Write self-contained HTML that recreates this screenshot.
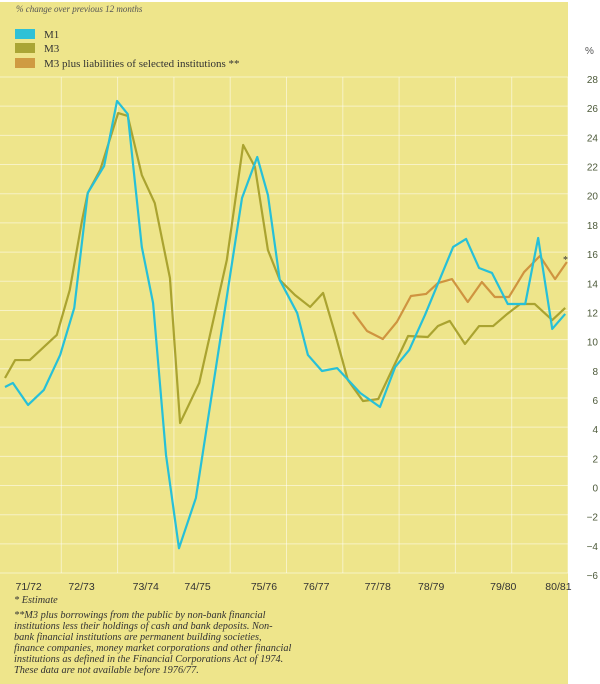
<!DOCTYPE html>
<html><head><meta charset="utf-8"><style>
body{margin:0;width:600px;height:684px;background:#fff;overflow:hidden;}
svg{display:block}
.serif{font-family:"Liberation Serif",serif}
.sans{font-family:"Liberation Sans",sans-serif}
</style></head><body>
<svg id="chart" width="600" height="684">
<rect x="0" y="2" width="568" height="682" fill="#eee58b"/>
<text x="16" y="12" class="serif" font-size="9" font-style="italic" fill="#555">% change over previous 12 months</text>
<rect x="15" y="29" width="20" height="10" fill="#2fc1d6"/>
<text x="44" y="38" class="serif" font-size="11" fill="#333">M1</text>
<rect x="15" y="43" width="20" height="10" fill="#aaa535"/>
<text x="44" y="52" class="serif" font-size="11" fill="#333">M3</text>
<rect x="15" y="58" width="20" height="10" fill="#cf9b42"/>
<text x="44" y="67" class="serif" font-size="11" fill="#333">M3 plus liabilities of selected institutions **</text>
<text x="585" y="54" class="sans" font-size="10" fill="#555">%</text>
<g id="grid"></g><g id="yticks"></g><g id="xlabels"></g><g id="series"></g>
<text x="563" y="263" class="serif" font-size="10" fill="#333">*</text>
<g class="serif" font-size="10.3" font-style="italic" fill="#333">
<text x="14" y="603">*  Estimate</text>
<text x="14" y="618">**M3 plus borrowings from the public by non-bank financial</text>
<text x="14" y="629">institutions less their holdings of cash and bank deposits. Non-</text>
<text x="14" y="640">bank financial institutions are permanent building societies,</text>
<text x="14" y="651">finance companies, money market corporations and other financial</text>
<text x="14" y="662">institutions as defined in the Financial Corporations Act of 1974.</text>
<text x="14" y="673">These data are not available before 1976/77.</text>
</g>
</svg>
<script>
const yTicks=[28,26,24,22,20,18,16,14,12,10,8,6,4,2,0,-2,-4,-6];
const yearLabels=["71/72","72/73","73/74","74/75","75/76","76/77","77/78","78/79","79/80","80/81"];
const yearLabelPos=[0.42,0.36,0.5,0.42,0.6,0.53,0.62,0.57,0.85,0.83];
const m1T=[0,0.14,0.41,0.69,0.98,1.23,1.47,1.76,1.99,2.18,2.43,2.63,2.86,3.09,3.39,4.21,4.48,4.67,4.88,5.19,5.38,5.63,5.9,6.31,6.66,6.93,7.18,7.46,7.96,8.19,8.42,8.65,8.93,9.24,9.47,9.72,9.95];
const m1V=[6.75,7.03,5.52,6.55,8.95,12.17,20.05,21.9,26.36,25.46,16.35,12.51,2.09,-4.3,-0.86,19.71,22.52,19.91,14.09,11.82,8.95,7.85,8.05,6.34,5.38,8.12,9.29,11.69,16.35,16.9,14.91,14.57,12.44,12.44,16.97,10.73,11.76];
const m3T=[0,0.18,0.44,0.92,1.15,1.37,1.47,1.69,2.01,2.18,2.43,2.66,2.93,3.11,3.45,3.94,4.23,4.44,4.67,4.88,5.15,5.42,5.65,5.86,6.09,6.36,6.63,7.16,7.51,7.69,7.9,8.17,8.42,8.67,8.92,9.15,9.41,9.72,9.95];
const m3V=[7.37,8.6,8.6,10.32,13.4,18.2,20.05,21.63,25.53,25.33,21.28,19.36,14.22,4.28,7.03,15.46,23.34,21.83,16.14,14.09,13.06,12.24,13.2,10.45,7.23,5.79,5.93,10.25,10.18,10.93,11.28,9.7,10.93,10.93,11.76,12.44,12.44,11.34,12.17];
const m3pT=[6.18,6.43,6.71,6.96,7.21,7.48,7.69,7.94,8.22,8.47,8.7,8.95,9.22,9.5,9.77,9.98];
const m3pV=[11.89,10.59,10.04,11.21,12.99,13.13,13.88,14.15,12.58,13.95,12.92,12.92,14.63,15.73,14.15,15.32];
const NS='http://www.w3.org/2000/svg';
const X=t=>5+t*56.3, Y=v=>77+(28-v)*14.59;
function mk(tag,attrs,parent){const e=document.createElementNS(NS,tag);for(const k in attrs)e.setAttribute(k,attrs[k]);parent.appendChild(e);return e;}
const grid=document.getElementById('grid');
yTicks.forEach(v=>{const l=mk('line',{x1:0,x2:568,y1:Y(v),y2:Y(v),stroke:'#fff','stroke-opacity':0.5,'stroke-width':1},grid);


const t=mk('text',{x:598,y:Y(v)+6,'text-anchor':'end','font-size':10,fill:'#4d5a3a','font-family':'Liberation Sans, sans-serif'},document.getElementById('yticks'));
t.textContent=v<0?'\u2212'+(-v):String(v);

});
for(let i=1;i<=10;i++){const l=mk('line',{x1:X(i),x2:X(i),y1:Y(28),y2:Y(-6),stroke:'#fff','stroke-opacity':0.5,'stroke-width':1},grid);

}
yearLabels.forEach((s,i)=>{const t=mk('text',{x:X(i+yearLabelPos[i]),y:590,'text-anchor':'middle','font-size':10.5,fill:'#333','font-family':'Liberation Sans, sans-serif'},document.getElementById('xlabels'));
t.textContent=s;

});
function line(T,V,color,name){const p=mk('polyline',{points:T.map((t,i)=>X(t)+','+Y(V[i])).join(' '),fill:'none',stroke:color,'stroke-width':2.2,'stroke-linejoin':'round'},document.getElementById('series'));

}
line(m3pT,m3pV,'#cf9440','line-m3-plus');
line(m3T,m3V,'#aaa330','line-m3');
line(m1T,m1V,'#27c0d8','line-m1');
</script>
</body></html>
